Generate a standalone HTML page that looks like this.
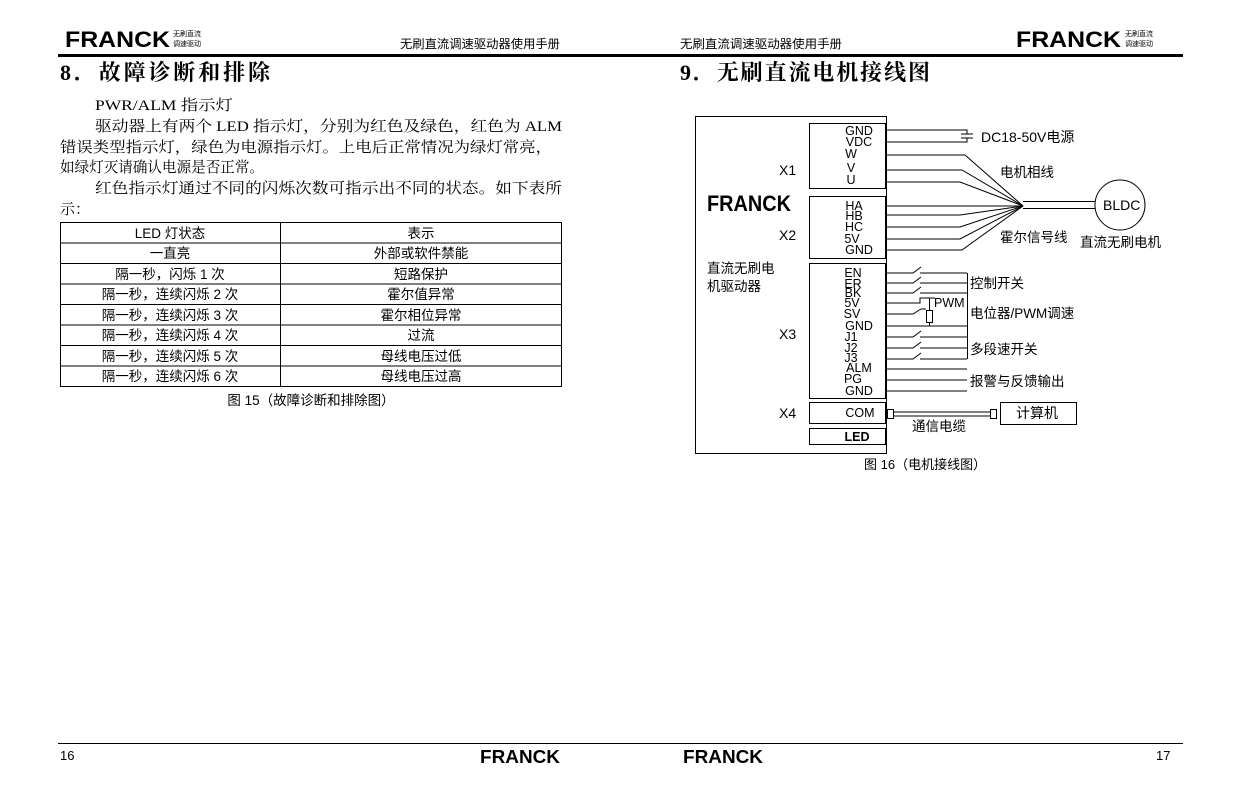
<!DOCTYPE html>
<html><head><meta charset="utf-8"><style>
html,body{margin:0;padding:0;background:#fff;}
svg{display:block;}
text{font-family:"Liberation Sans","Noto Sans CJK SC",sans-serif;fill:#000;}
.s{font-family:"Liberation Serif","Noto Serif CJK SC",serif;}
</style></head><body>
<svg width="1241" height="798" viewBox="0 0 1241 798" xmlns="http://www.w3.org/2000/svg">
<!-- header -->
<text x="65" y="47" font-size="22" font-weight="900" textLength="105" lengthAdjust="spacingAndGlyphs">FRANCK</text>
<text x="173" y="36" font-size="7" fill="#666">无刷直流</text>
<text x="173" y="46" font-size="7" fill="#666">调速驱动</text>
<text x="1016" y="47" font-size="22" font-weight="900" textLength="105" lengthAdjust="spacingAndGlyphs">FRANCK</text>
<text x="1125" y="36" font-size="7" fill="#666">无刷直流</text>
<text x="1125" y="46" font-size="7" fill="#666">调速驱动</text>
<text x="400" y="48" font-size="12" textLength="160" lengthAdjust="spacingAndGlyphs">无刷直流调速驱动器使用手册</text>
<text x="680" y="48" font-size="12" textLength="162" lengthAdjust="spacingAndGlyphs">无刷直流调速驱动器使用手册</text>
<rect x="58" y="54" width="1125" height="3"/>
<!-- titles -->
<text x="60" y="80" class="s" font-size="22" font-weight="bold" textLength="210">8．故障诊断和排除</text>
<text x="680" y="80" class="s" font-size="22" font-weight="bold" textLength="250">9．无刷直流电机接线图</text>
<!-- left paragraphs -->
<g font-size="15">
<text x="95" y="110" class="s" textLength="138" lengthAdjust="spacingAndGlyphs">PWR/ALM 指示灯</text>
<text x="95" y="131" class="s" textLength="467" lengthAdjust="spacingAndGlyphs">驱动器上有两个 LED 指示灯，分别为红色及绿色，红色为 ALM</text>
<text x="60" y="152" class="s" textLength="492" lengthAdjust="spacingAndGlyphs">错误类型指示灯，绿色为电源指示灯。上电后正常情况为绿灯常亮，</text>
<text x="60" y="172" class="s" textLength="204" lengthAdjust="spacingAndGlyphs">如绿灯灭请确认电源是否正常。</text>
<text x="95" y="193" class="s" textLength="467" lengthAdjust="spacingAndGlyphs">红色指示灯通过不同的闪烁次数可指示出不同的状态。如下表所</text>
<text x="60" y="214" class="s">示：</text>
</g>
<!-- table -->
<g stroke="#000" stroke-width="1" fill="none">
<rect x="60.5" y="222.5" width="501" height="164"/>
<line x1="280.5" y1="222" x2="280.5" y2="387"/>
<line x1="60" y1="243" x2="562" y2="243"/>
<line x1="60" y1="263.5" x2="562" y2="263.5"/>
<line x1="60" y1="284" x2="562" y2="284"/>
<line x1="60" y1="304.5" x2="562" y2="304.5"/>
<line x1="60" y1="325" x2="562" y2="325"/>
<line x1="60" y1="345.5" x2="562" y2="345.5"/>
<line x1="60" y1="366" x2="562" y2="366"/>
</g>
<g font-size="13.5" text-anchor="middle">
<text x="170" y="238">LED 灯状态</text><text x="421" y="238">表示</text>
<text x="170" y="258">一直亮</text><text x="421" y="258">外部或软件禁能</text>
<text x="170" y="279">隔一秒，闪烁 1 次</text><text x="421" y="279">短路保护</text>
<text x="170" y="299">隔一秒，连续闪烁 2 次</text><text x="421" y="299">霍尔值异常</text>
<text x="170" y="320">隔一秒，连续闪烁 3 次</text><text x="421" y="320">霍尔相位异常</text>
<text x="170" y="340">隔一秒，连续闪烁 4 次</text><text x="421" y="340">过流</text>
<text x="170" y="361">隔一秒，连续闪烁 5 次</text><text x="421" y="361">母线电压过低</text>
<text x="170" y="381">隔一秒，连续闪烁 6 次</text><text x="421" y="381">母线电压过高</text>
<text x="311" y="405">图 15（故障诊断和排除图）</text>
</g>
<!-- diagram -->
<g stroke="#000" stroke-width="1" fill="none">
<rect x="695.5" y="116.5" width="191" height="337"/>
<rect x="809.5" y="123.5" width="76" height="65"/>
<rect x="809.5" y="196.5" width="76" height="62"/>
<rect x="809.5" y="263.5" width="76" height="135"/>
<rect x="809.5" y="402.5" width="76" height="21"/>
<rect x="809.5" y="428.5" width="76" height="16"/>
<polyline points="887,130 967,130 967,134"/>
<polyline points="887,142 967,142 967,138"/>
<line x1="961" y1="134" x2="973" y2="134"/>
<line x1="961" y1="138" x2="973" y2="138"/>
<polyline points="887,155 965,155 1023,206"/>
<polyline points="887,170 962,170 1023,206"/>
<polyline points="887,182 960,182 1023,206"/>
<polyline points="887,206 960,206 1023,206"/>
<polyline points="887,215 960,215 1023,206"/>
<polyline points="887,227 960,227 1023,206"/>
<polyline points="887,239 960,239 1023,206"/>
<polyline points="887,250 962,250 1023,206"/>
<line x1="1023" y1="201.5" x2="1095" y2="201.5"/>
<line x1="1023" y1="208.5" x2="1095" y2="208.5"/>
<circle cx="1120" cy="205" r="25"/>
<line x1="967.5" y1="273" x2="967.5" y2="359"/>
<polyline points="887,273 913,273 921,267"/><line x1="920" y1="273" x2="967" y2="273"/>
<polyline points="887,283 913,283 921,277"/><line x1="920" y1="283" x2="967" y2="283"/>
<polyline points="887,293 913,293 921,287"/><line x1="920" y1="293" x2="967" y2="293"/>
<polyline points="887,303 920,303 920,298 935,298"/>
<line x1="929.5" y1="298" x2="929.5" y2="310"/>
<rect x="926.5" y="310.5" width="6" height="12"/>
<polyline points="887,314 913,314 921,309 926,309"/>
<line x1="929.5" y1="322" x2="929.5" y2="326"/>
<line x1="887" y1="326" x2="967" y2="326"/>
<polyline points="887,337 913,337 921,331"/><line x1="920" y1="337" x2="967" y2="337"/>
<polyline points="887,348 913,348 921,342"/><line x1="920" y1="348" x2="967" y2="348"/>
<polyline points="887,359 913,359 921,353"/><line x1="920" y1="359" x2="967" y2="359"/>
<line x1="887" y1="369" x2="967" y2="369"/>
<line x1="887" y1="380" x2="967" y2="380"/>
<line x1="887" y1="391" x2="967" y2="391"/>
<rect x="887.5" y="409.5" width="6" height="9"/>
<line x1="894" y1="412" x2="990" y2="412"/>
<line x1="894" y1="416" x2="990" y2="416"/>
<rect x="990.5" y="409.5" width="6" height="9"/>
<rect x="1000.5" y="402.5" width="76" height="22"/>
</g>
<g font-size="12.5" text-anchor="middle">
<text x="859" y="135">GND</text><text x="859" y="146">VDC</text><text x="851" y="158">W</text><text x="851" y="172">V</text><text x="851" y="184">U</text>
<text x="854" y="210">HA</text><text x="854" y="220">HB</text><text x="854" y="231">HC</text><text x="852" y="243">5V</text><text x="859" y="254">GND</text>
<text x="853" y="277">EN</text><text x="853" y="288">ER</text><text x="853" y="297">BK</text><text x="852" y="307">5V</text><text x="852" y="318">SV</text><text x="859" y="330">GND</text>
<text x="851" y="341">J1</text><text x="851" y="352">J2</text><text x="851" y="362">J3</text><text x="859" y="372">ALM</text><text x="853" y="383">PG</text><text x="859" y="395">GND</text>
<text x="860" y="417">COM</text><text x="857" y="441" font-weight="bold">LED</text>
</g>
<g font-size="14">
<text x="779" y="175">X1</text><text x="779" y="240">X2</text><text x="779" y="339">X3</text><text x="779" y="418">X4</text>
<text x="707" y="211" font-size="22" font-weight="900" textLength="84" lengthAdjust="spacingAndGlyphs">FRANCK</text>
<text x="707" y="273" font-size="13.5">直流无刷电</text>
<text x="707" y="291" font-size="13.5">机驱动器</text>
<text x="981" y="142">DC18-50V电源</text>
<text x="1000" y="177" font-size="13.5">电机相线</text>
<text x="1000" y="242" font-size="13.5">霍尔信号线</text>
<text x="1080" y="247" font-size="13.5">直流无刷电机</text>
<text x="1103" y="210">BLDC</text>
<text x="970" y="288" font-size="13.5">控制开关</text>
<text x="934" y="307" font-size="12.5">PWM</text>
<text x="970" y="318" font-size="13.5">电位器/PWM调速</text>
<text x="970" y="354" font-size="13.5">多段速开关</text>
<text x="970" y="386" font-size="13.5">报警与反馈输出</text>
<text x="1016" y="418">计算机</text>
<text x="912" y="431" font-size="13.5">通信电缆</text>
<text x="864" y="469" font-size="13">图 16（电机接线图）</text>
</g>
<rect x="58" y="743" width="1125" height="1"/>
<text x="60" y="760" font-size="13">16</text>
<text x="1156" y="760" font-size="13">17</text>
<text x="480" y="763" font-size="18" font-weight="900" textLength="80" lengthAdjust="spacingAndGlyphs">FRANCK</text>
<text x="683" y="763" font-size="18" font-weight="900" textLength="80" lengthAdjust="spacingAndGlyphs">FRANCK</text>
</svg>
</body></html>
